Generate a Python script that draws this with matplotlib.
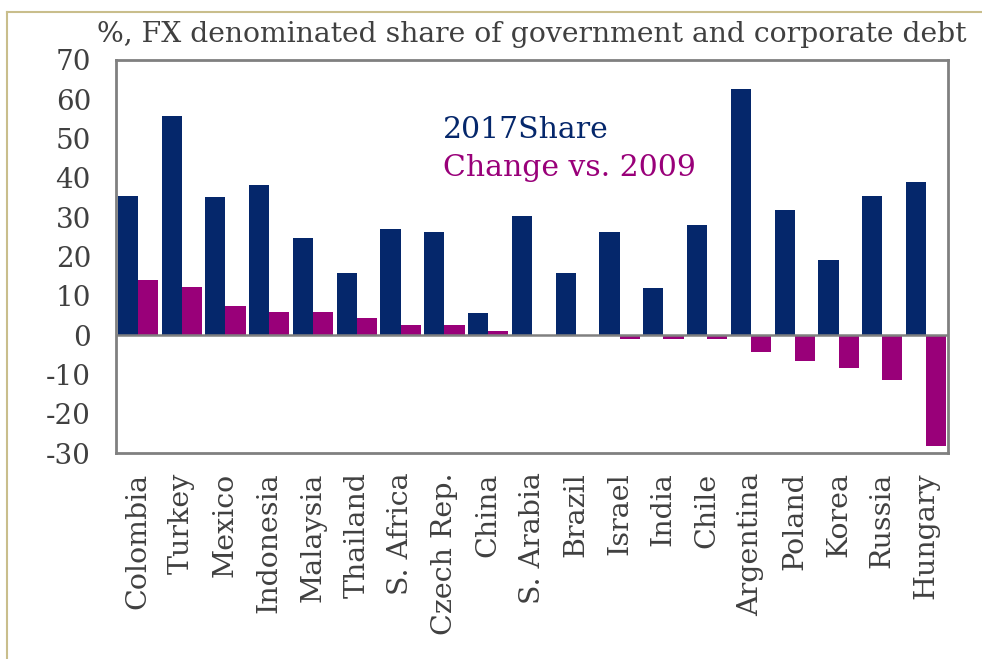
import matplotlib
matplotlib.use("Agg")
import matplotlib.pyplot as plt
from matplotlib.lines import Line2D
import numpy as np

countries = ["Colombia", "Turkey", "Mexico", "Indonesia", "Malaysia", "Thailand",
             "S. Africa", "Czech Rep.", "China", "S. Arabia", "Brazil", "Israel",
             "India", "Chile", "Argentina", "Poland", "Korea", "Russia", "Hungary"]
share_2017 = [35.3, 55.8, 35.2, 38.3, 24.8, 15.9, 27.0, 26.2, 5.5, 30.2, 15.9, 26.2,
              11.9, 27.9, 62.7, 31.9, 19.1, 35.3, 38.9]
change_vs_2009 = [13.9, 12.2, 7.3, 5.8, 5.8, 4.3, 2.5, 2.5, 1.0, 0.0, 0.0, -1.0,
                  -1.0, -1.0, -4.4, -6.5, -8.4, -11.3, -28.1]
yticks = [70, 60, 50, 40, 30, 20, 10, 0, -10, -20, -30]

NAVY = "#05276b"
MAGENTA = "#990079"
GRAY = "#808080"
FONT = "DejaVu Serif"

fig = plt.figure(figsize=(9.82, 6.59), dpi=100)
ax = fig.add_axes([116/982, 1-453/659, (948-116)/982, (453-60)/659])

x = np.arange(len(countries))
w = 0.46
ax.bar(x - w/2, share_2017, width=w, color=NAVY, zorder=2)
ax.bar(x + w/2, change_vs_2009, width=w, color=MAGENTA, zorder=2)
ax.axhline(0, color=GRAY, lw=1.8, zorder=3)

ax.set_xlim(-0.5, len(countries) - 0.5)
ax.set_ylim(-30, 70)
ax.set_yticks(yticks)
ax.set_yticklabels([str(t) for t in yticks], fontsize=20, family=FONT, color="#404040")
ax.set_xticks(x)
ax.set_xticklabels(countries, rotation=90, fontsize=20.5, family=FONT, color="#404040",
                   va="top", ha="center")
ax.tick_params(axis="both", length=0)
ax.tick_params(axis="y", pad=18)
ax.tick_params(axis="x", pad=14)
for s in ax.spines.values():
    s.set_color(GRAY)
    s.set_linewidth(2)

fig.text(443/982, 1-130/659, "2017Share", color=NAVY, fontsize=21.5, family=FONT,
         ha="left", va="center")
fig.text(443/982, 1-168/659, "Change vs. 2009", color=MAGENTA, fontsize=21.5, family=FONT,
         ha="left", va="center")
fig.text(97/982, 1-35/659, "%, FX denominated share of government and corporate debt",
         color="#404040", fontsize=20.3, family=FONT, ha="left", va="center")

border = "#c9be8c"
fig.add_artist(Line2D([7/982, 7/982], [0, 1-12/659], transform=fig.transFigure, color=border, lw=1.5))
fig.add_artist(Line2D([7/982, 1], [1-12/659, 1-12/659], transform=fig.transFigure, color=border, lw=1.5))

fig.savefig("out.png", dpi=100)
